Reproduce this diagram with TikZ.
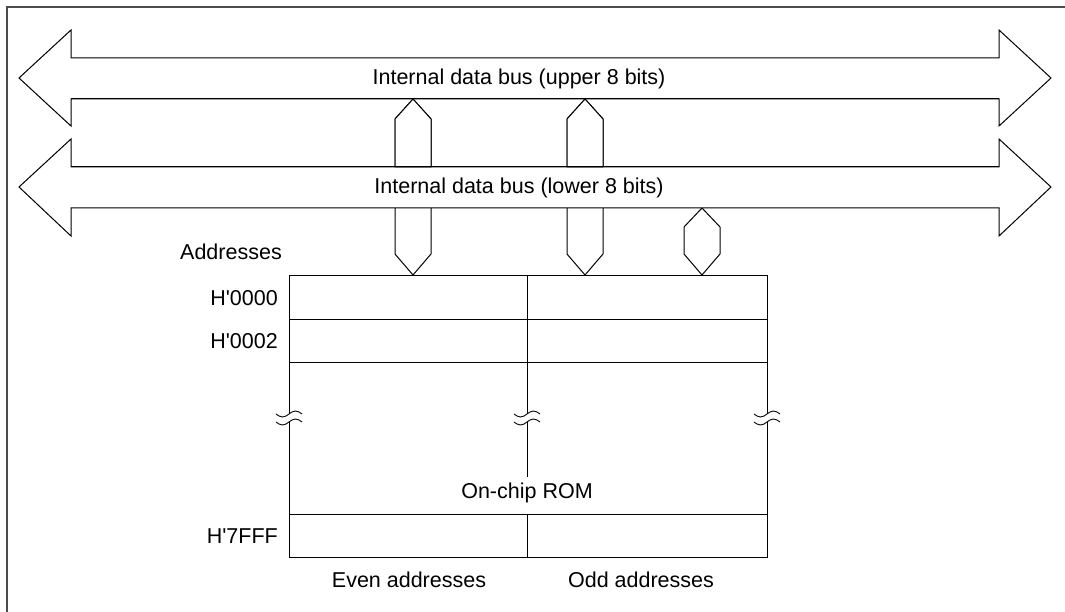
\documentclass[tikz,border=0pt]{standalone}
\usepackage{fontspec}
\setmainfont{Liberation Sans}
\begin{document}
\begin{tikzpicture}[x=1pt,y=-1pt,
  line/.style={line width=1pt,black},
  lbl/.style={inner sep=0pt,font=\fontsize{21.5}{25}\selectfont},
  bus/.style={line width=1pt,fill=white,line join=miter},
  conn/.style={line width=1pt,fill=white}]
\useasboundingbox (0,0) rectangle (1065,612);
% frame
\draw[line width=1.3pt,black!70] (7,612) -- (7,7) -- (1065,7);
% connectors (behind the buses)
\draw[conn] (413,99) -- (431,119) -- (431,254) -- (413,275) -- (395,254) -- (395,119) -- cycle;
\draw[conn] (585,99) -- (603,119) -- (603,254) -- (585,275) -- (567,254) -- (567,119) -- cycle;
\draw[conn] (702,208) -- (720,227) -- (720,254) -- (702,275) -- (684,254) -- (684,227) -- cycle;
% upper bus
\draw[bus] (19,78) -- (71,30) -- (71,58) -- (999,58) -- (999,30) -- (1051,78) -- (999,126) -- (999,99) -- (71,99) -- (71,126) -- cycle;
\node[lbl] (upper) at (519,79) {Internal data bus (upper 8 bits)};
% lower bus
\draw[bus] (19,187) -- (71,139) -- (71,167) -- (999,167) -- (999,139) -- (1051,187) -- (999,236) -- (999,208) -- (71,208) -- (71,236) -- cycle;
\node[lbl] (lower) at (519,188) {Internal data bus (lower 8 bits)};
% redraw connector parts between the buses so they stay visible
\draw[conn] (413,99) -- (431,119) -- (431,167) -- (395,167) -- (395,119) -- cycle;
\draw[conn] (585,99) -- (603,119) -- (603,167) -- (567,167) -- (567,119) -- cycle;
\draw[line] (71,99) -- (999,99);
\draw[line] (71,167) -- (999,167);
% ROM table
\draw[line] (289,276) rectangle (767,557);
\draw[line] (289,319) -- (767,319);
\draw[line] (289,362) -- (767,362);
\draw[line] (289,514) -- (767,514);
\draw[line] (527,276) -- (527,477);
\draw[line] (527,514) -- (527,557);
% break marks
\foreach \bx in {289,527,767}{
  \fill[white] (\bx-13,414) sin (\bx-6.5,417) cos (\bx,414) sin (\bx+6.5,411) cos (\bx+13,414)
     -- (\bx+13,422) sin (\bx+6.5,419) cos (\bx,422) sin (\bx-6.5,425) cos (\bx-13,422) -- cycle;
  \draw[line width=0.9pt] (\bx-13,414) sin (\bx-6.5,417) cos (\bx,414) sin (\bx+6.5,411) cos (\bx+13,414);
  \draw[line width=0.9pt] (\bx-13,422) sin (\bx-6.5,425) cos (\bx,422) sin (\bx+6.5,419) cos (\bx+13,422);
}
% labels
\node[lbl,anchor=west] (addr) at (180,252) {Addresses};
\node[lbl,anchor=east] (a0) at (278,298) {H\textquotesingle 0000};
\node[lbl,anchor=east] (a2) at (278,341) {H\textquotesingle 0002};
\node[lbl,anchor=east] (a7) at (278,536) {H\textquotesingle 7FFF};
\node[lbl] (rom) at (527,493) {On-chip ROM};
\node[lbl] (even) at (409,580) {Even addresses};
\node[lbl] (odd) at (641,580) {Odd addresses};
\end{tikzpicture}
\end{document}
